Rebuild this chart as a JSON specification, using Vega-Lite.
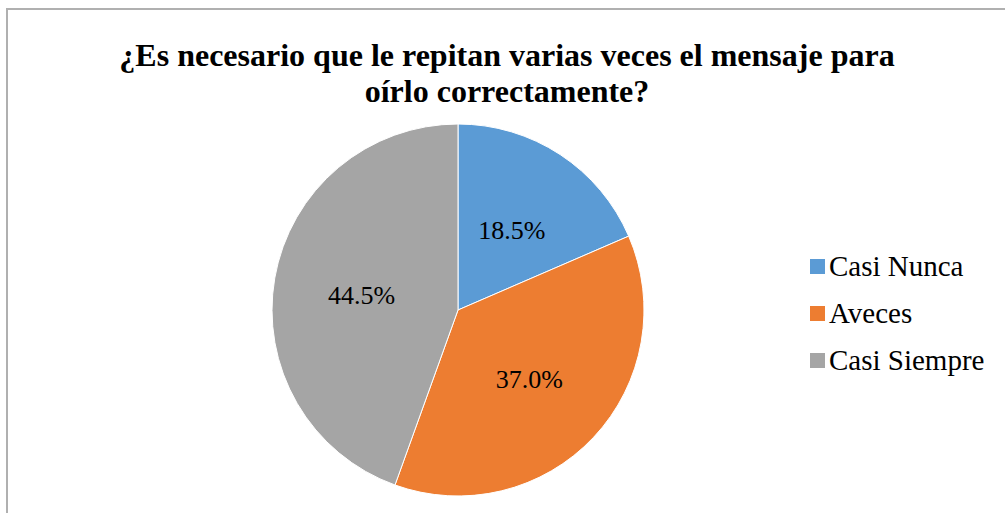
{
  "$schema": "https://vega.github.io/schema/vega-lite/v6.json",
  "autosize": "none",
  "width": 1000,
  "height": 510,
  "padding": {"left": 7, "top": 9, "right": 0, "bottom": 0},
  "background": "white",
  "view": {"stroke": "#b0b0b0", "strokeWidth": 2, "fill": "white"},
  "config": {
    "view": {"stroke": "#b0b0b0", "strokeWidth": 2},
    "style": {"view": {"stroke": "#b0b0b0", "strokeWidth": 2}}
  },
  "title": {
    "text": ["¿Es necesario que le repitan varias veces el mensaje para", "oírlo correctamente?"],
    "font": "Liberation Serif",
    "fontSize": 32,
    "fontWeight": "bold",
    "color": "#000000",
    "anchor": "middle",
    "baseline": "top",
    "lineHeight": 36,
    "offset": 0,
    "dy": 100
  },
  "data": {
    "values": [
      {"categoria": "Casi Nunca", "valor": 0.185, "orden": 1},
      {"categoria": "Aveces", "valor": 0.370, "orden": 2},
      {"categoria": "Casi Siempre", "valor": 0.445, "orden": 3}
    ]
  },
  "encoding": {
    "theta": {"field": "valor", "type": "quantitative", "stack": true},
    "order": {"field": "orden", "type": "quantitative"}
  },
  "layer": [
    {
      "mark": {"type": "arc", "x": 451, "y": 301, "outerRadius": 186, "stroke": "white", "strokeWidth": 1},
      "encoding": {
        "color": {
          "field": "categoria",
          "type": "nominal",
          "scale": {"domain": ["Casi Nunca", "Aveces", "Casi Siempre"], "range": ["#5B9BD5", "#ED7D31", "#A5A5A5"]},
          "sort": ["Casi Nunca", "Aveces", "Casi Siempre"],
          "legend": {
            "title": null,
            "orient": "none",
            "legendX": 796,
            "legendY": 243,
            "symbolType": "square",
            "symbolSize": 225,
            "symbolStrokeWidth": 0,
            "labelFont": "Liberation Serif",
            "labelFontSize": 29,
            "labelColor": "#000000",
            "labelOffset": -3,
            "rowPadding": 17,
            "labelLimit": 300
          }
        }
      }
    },
    {
      "mark": {"type": "text", "x": 451, "y": 301, "radius": 98, "dy": 3, "font": "Liberation Serif", "fontSize": 26, "color": "#000000"},
      "encoding": {
        "text": {"field": "valor", "type": "quantitative", "format": ".1%"}
      }
    }
  ]
}
